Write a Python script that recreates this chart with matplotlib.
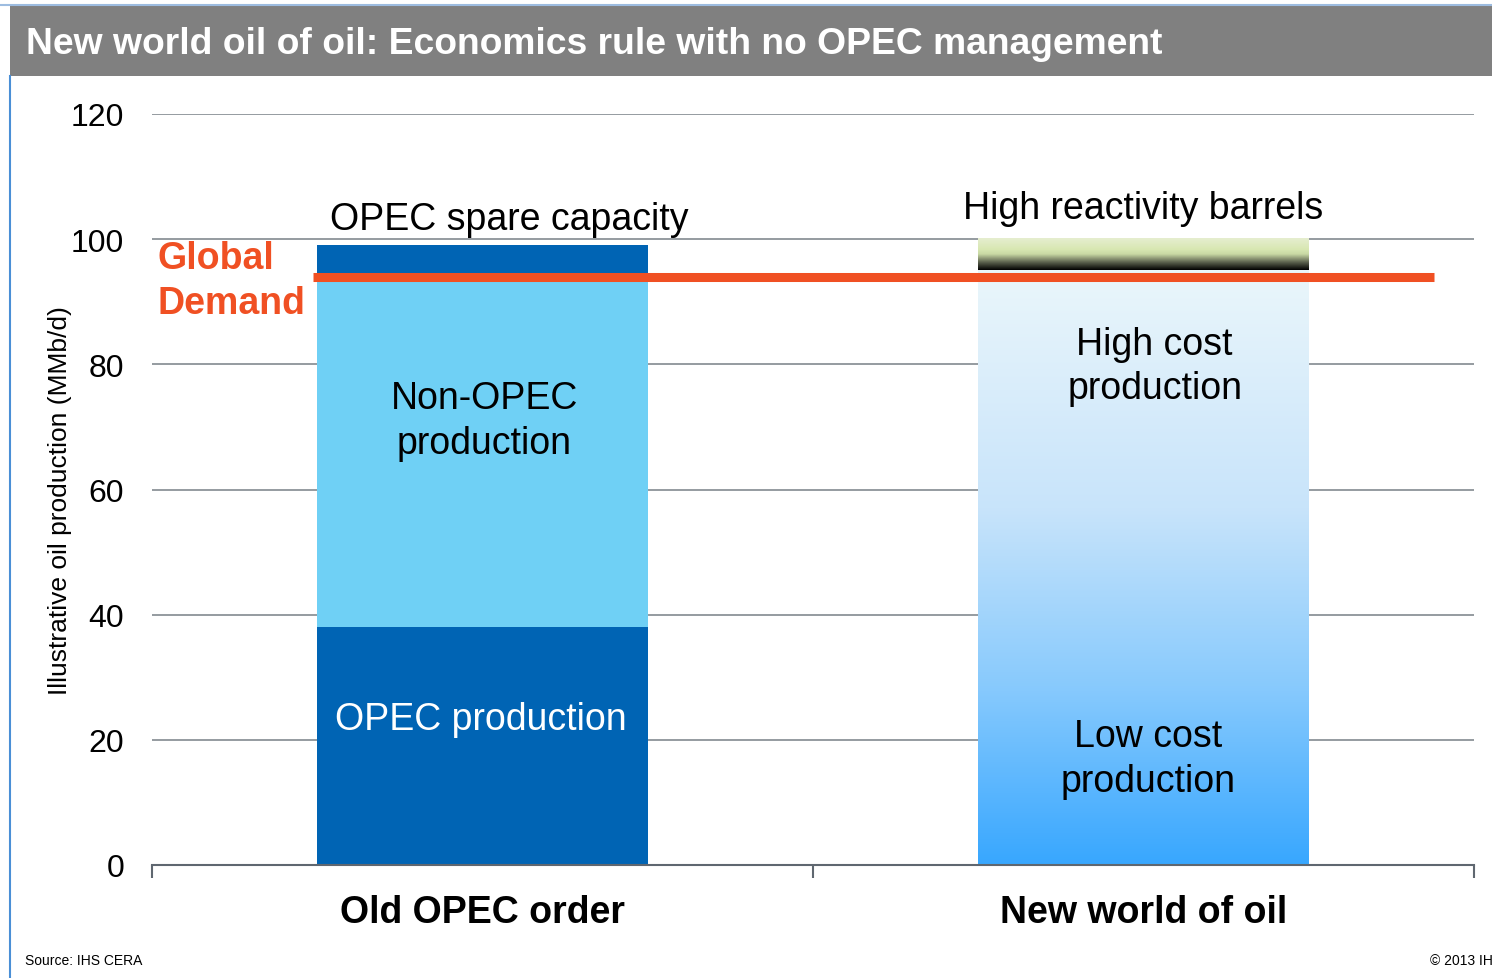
import matplotlib.pyplot as plt
import numpy as np
from matplotlib.colors import LinearSegmentedColormap
from matplotlib.patches import Rectangle

plt.rcParams['font.family'] = ['Liberation Sans', 'DejaVu Sans']

# Data (MMb/d, illustrative)
categories = ['Old OPEC order', 'New world of oil']
opec_production = 38
non_opec_production = 56
opec_spare = 5
cost_curve_production = 95   # low to high cost, one gradient block
high_reactivity = 5
global_demand = 94
y_ticks = [0, 20, 40, 60, 80, 100, 120]

fig = plt.figure(figsize=(14.92, 9.79), dpi=100)

# Title bar and frame lines
fig.add_artist(Rectangle((10 / 1492, 1 - 77 / 979), 1, 70 / 979, transform=fig.transFigure,
                         facecolor='#808080', edgecolor='none'))
fig.add_artist(plt.Line2D([0, 1], [1 - 6 / 979] * 2, transform=fig.transFigure,
                          color='#9DBCE0', lw=1.5))
fig.add_artist(plt.Line2D([10 / 1492] * 2, [0, 1 - 77 / 979], transform=fig.transFigure,
                          color='#4A8FD6', lw=1.5))
fig.text(26 / 1492, 1 - 45 / 979, 'New world oil of oil: Economics rule with no OPEC management',
         color='white', fontsize=26.8, fontweight='bold', va='center', ha='left')

ax = fig.add_axes([152 / 1492, 1 - 866 / 979, 1322 / 1492, (866 - 115) / 979])
x = np.arange(len(categories))
w = 0.5

# Old OPEC order: stacked solid bars
ax.bar(x[0], opec_production, w, color='#0064B4', zorder=2)
ax.bar(x[0], non_opec_production, w, bottom=opec_production, color='#6FD0F5', zorder=2)
ax.bar(x[0], opec_spare, w, bottom=opec_production + non_opec_production, color='#0064B4', zorder=2)

# New world of oil: gradient bars
blue_cmap = LinearSegmentedColormap.from_list(
    'cost', [(0, '#38A7FF'), (0.3, '#88CAFD'), (0.6, '#C8E4FA'), (1, '#EAF6FB')])
hr_cmap = LinearSegmentedColormap.from_list(
    'hr', [(0, '#000000'), (0.25, '#5E6450'), (0.5, '#C9D9A4'), (0.65, '#D8E7B2'), (1, '#E6EED0')])

grad = np.linspace(0, 1, 256).reshape(-1, 1)
b1 = ax.bar(x[1], cost_curve_production, w, color='none', zorder=2)[0]
ax.imshow(grad, cmap=blue_cmap, origin='lower', aspect='auto', zorder=2,
          extent=[b1.get_x(), b1.get_x() + b1.get_width(), 0, cost_curve_production])
b2 = ax.bar(x[1], high_reactivity, w, bottom=cost_curve_production, color='none', zorder=2)[0]
ax.imshow(grad, cmap=hr_cmap, origin='lower', aspect='auto', zorder=2,
          extent=[b2.get_x(), b2.get_x() + b2.get_width(),
                  cost_curve_production, cost_curve_production + high_reactivity])

# Global demand line
ax.plot([-0.256, 1.44], [global_demand, global_demand], color='#F05023', lw=6.5,
        solid_capstyle='butt', zorder=3)

ax.set_xlim(-0.5, 1.5)
ax.set_ylim(0, 120)
ax.set_yticks(y_ticks)
ax.set_yticklabels([str(v) for v in y_ticks], fontsize=23)
ax.yaxis.grid(True, color='#8C9399', lw=1.3)
ax.set_axisbelow(True)
ax.tick_params(axis='y', length=0, pad=20)
for s in ['top', 'right', 'left']:
    ax.spines[s].set_visible(False)
ax.spines['bottom'].set_color('#5F6770')
ax.spines['bottom'].set_linewidth(1.5)
ax.set_xticks([-0.5, 0.5, 1.5])
ax.set_xticklabels([])
ax.tick_params(axis='x', direction='out', length=9, width=1.5, color='#5F6770')
ax.set_ylabel('Illustrative oil production (MMb/d)', fontsize=19, va='center')
ax.yaxis.set_label_coords(-0.0696, 0.486)

for xi, name in zip(x, categories):
    ax.text(xi, -7.5, name, ha='center', va='center', fontsize=27, fontweight='bold')

# Segment labels
ax.text(0.04, 103.2, 'OPEC spare capacity', ha='center', va='center', fontsize=27)
ax.text(1.0, 105.0, 'High reactivity barrels', ha='center', va='center', fontsize=27)
ax.text(0.003, 71.0, 'Non-OPEC\nproduction', ha='center', va='center', fontsize=27,
        linespacing=1.3)
ax.text(-0.003, 23.4, 'OPEC production', ha='center', va='center', fontsize=27, color='white')
ax.text(1.017, 79.7, 'High cost\nproduction', ha='center', va='center', fontsize=27,
        linespacing=1.3)
ax.text(1.007, 17.0, 'Low cost\nproduction', ha='center', va='center', fontsize=27,
        linespacing=1.3)
ax.text(-0.491, 93.4, 'Global\nDemand', ha='left', va='center', fontsize=27,
        fontweight='bold', color='#F05023', linespacing=1.3)

fig.text(25 / 1492, 1 - 961 / 979, 'Source: IHS CERA', fontsize=10, va='center')
fig.text(1430 / 1492, 1 - 961 / 979, '\u00a9 2013 IHS', fontsize=10, va='center')

fig.savefig('out.png', dpi=100)
